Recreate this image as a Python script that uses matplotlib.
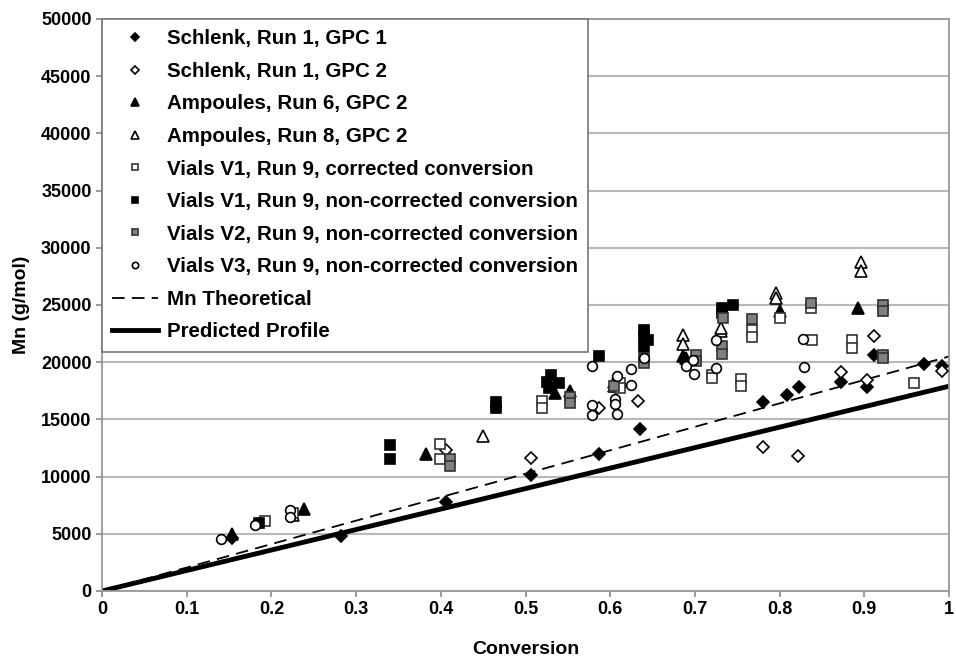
import numpy as np
import matplotlib
matplotlib.use('Agg')
import matplotlib.pyplot as plt

plt.rcParams['font.family'] = ['Liberation Sans', 'DejaVu Sans']
plt.rcParams['font.weight'] = 'bold'

# Schlenk, Run 1, GPC 1 (filled diamonds)
schlenk1_x = [0.153, 0.282, 0.406, 0.506, 0.587, 0.635, 0.780, 0.809, 0.823, 0.872, 0.903, 0.912, 0.971, 0.992]
schlenk1_y = [4610, 4850, 7790, 10150, 12000, 14170, 16510, 17120, 17790, 18310, 17790, 20590, 19860, 19690]

# Schlenk, Run 1, GPC 2 (open diamonds)
schlenk2_x = [0.406, 0.506, 0.587, 0.633, 0.780, 0.822, 0.872, 0.903, 0.912, 0.992]
schlenk2_y = [12340, 11610, 15990, 16620, 12630, 11840, 19140, 18450, 22310, 19190]

# Ampoules, Run 6, GPC 2 (filled triangles)
amp6_x = [0.153, 0.238, 0.383, 0.535, 0.553, 0.686, 0.690, 0.801, 0.892]
amp6_y = [4960, 7200, 11990, 17300, 17440, 20560, 20360, 24440, 24740]

# Ampoules, Run 8, GPC 2 (open triangles)
amp8_x = [0.226, 0.450, 0.604, 0.604, 0.686, 0.686, 0.731, 0.731, 0.796, 0.796, 0.896, 0.896]
amp8_y = [6650, 13560, 18310, 17880, 22400, 21610, 22690, 23000, 26050, 25610, 28730, 27940]

# Vials V1, Run 9, corrected conversion (open squares)
v1c_x = [0.192, 0.226, 0.399, 0.399, 0.520, 0.520, 0.612, 0.612, 0.720, 0.720, 0.754, 0.754,
         0.767, 0.767, 0.801, 0.837, 0.838, 0.885, 0.885, 0.959]
v1c_y = [6100, 6800, 12840, 11520, 16620, 15990, 18170, 17740, 18900, 18610, 18520, 17940,
         22780, 22200, 23900, 24740, 21960, 21900, 21240, 18170]

# Vials V1, Run 9, non-corrected conversion (filled squares)
v1n_x = [0.185, 0.340, 0.340, 0.465, 0.465, 0.525, 0.530, 0.540, 0.528, 0.587,
         0.640, 0.640, 0.645, 0.640, 0.732, 0.732, 0.745]
v1n_y = [5920, 12775, 11520, 16500, 16000, 18310, 18900, 18170, 17740, 20500,
         22800, 22300, 21900, 21300, 24740, 24300, 25030]

# Vials V2, Run 9, non-corrected conversion (grey squares)
v2_x = [0.411, 0.411, 0.552, 0.552, 0.605, 0.640, 0.640, 0.701, 0.701, 0.733, 0.732, 0.732,
        0.767, 0.837, 0.922, 0.922, 0.922, 0.922]
v2_y = [11520, 10940, 17000, 16420, 17900, 20360, 19920, 20650, 20070, 23860, 21380, 20740,
        23770, 25170, 25030, 24440, 20650, 20360]

# Vials V3, Run 9, non-corrected conversion (open circles)
v3_x = [0.140, 0.181, 0.222, 0.222, 0.578, 0.579, 0.579, 0.608, 0.606, 0.606, 0.608,
        0.625, 0.625, 0.640, 0.689, 0.698, 0.699, 0.725, 0.725, 0.828, 0.829]
v3_y = [4520, 5775, 7100, 6450, 19690, 16280, 15400, 18750, 16770, 16340, 15460,
        19400, 18020, 20400, 19690, 20210, 18990, 19490, 21900, 22020, 19570]

# Lines
line_x = [0, 1]
theo_y = [0, 20500]
pred_y = [0, 17900]

fig = plt.figure(figsize=(9.56, 6.59), dpi=100)
ax = fig.add_axes([0.1067, 0.1032, 0.886, 0.868])

ms = 7
ew = 1.2
ax.plot(schlenk1_x, schlenk1_y, 'D', ms=ms - 1, mfc='black', mec='black', mew=ew,
        label='Schlenk, Run 1, GPC 1', zorder=3)
ax.plot(schlenk2_x, schlenk2_y, 'D', ms=ms - 1, mfc='white', mec='black', mew=ew,
        label='Schlenk, Run 1, GPC 2', zorder=3)
ax.plot(amp6_x, amp6_y, '^', ms=ms + 1, mfc='black', mec='black', mew=ew,
        label='Ampoules, Run 6, GPC 2', zorder=3)
ax.plot(amp8_x, amp8_y, '^', ms=ms + 1, mfc='white', mec='black', mew=ew,
        label='Ampoules, Run 8, GPC 2', zorder=3)
ax.plot(v1c_x, v1c_y, 's', ms=ms - 0.5, mfc='white', mec='#333333', mew=ew,
        label='Vials V1, Run 9, corrected conversion', zorder=3)
ax.plot(v1n_x, v1n_y, 's', ms=ms - 0.5, mfc='black', mec='black', mew=ew,
        label='Vials V1, Run 9, non-corrected conversion', zorder=3)
ax.plot(v2_x, v2_y, 's', ms=ms - 0.5, mfc='#808080', mec='#333333', mew=ew,
        label='Vials V2, Run 9, non-corrected conversion', zorder=3)
ax.plot(v3_x, v3_y, 'o', ms=ms, mfc='white', mec='black', mew=ew,
        label='Vials V3, Run 9, non-corrected conversion', zorder=3)
ax.plot(line_x, theo_y, '--', color='black', lw=1.3, dashes=(7, 4),
        label='Mn Theoretical', zorder=2)
ax.plot(line_x, pred_y, '-', color='black', lw=3.5,
        label='Predicted Profile', zorder=2)

ax.set_xlim(0, 1)
ax.set_ylim(0, 50000)
ax.set_xticks(np.arange(0, 1.01, 0.1))
ax.set_xticklabels(['0', '0.1', '0.2', '0.3', '0.4', '0.5', '0.6', '0.7', '0.8', '0.9', '1'])
ax.set_yticks(np.arange(0, 50001, 5000))
ax.tick_params(labelsize=13, length=4, color='#888888', width=1.2)
ax.yaxis.grid(True, color='#b8b8b8', lw=1.5, zorder=0)
ax.set_axisbelow(True)
for s in ax.spines.values():
    s.set_color('#999999')
    s.set_linewidth(1.3)

ax.set_xlabel('Conversion', fontsize=14, fontweight='bold', labelpad=16)
ax.set_ylabel('Mn (g/mol)', fontsize=14, fontweight='bold', labelpad=8)

leg = ax.legend(loc='upper left', bbox_to_anchor=(0, 1), borderaxespad=0,
                markerscale=0.65, handlelength=2.2, handletextpad=0.45,
                labelspacing=0.66, borderpad=0.5, fancybox=False, framealpha=1,
                edgecolor='#777777', prop={'weight': 'bold', 'size': 14.8})
leg.get_frame().set_linewidth(1.2)

plt.savefig('out.png', dpi=100)
